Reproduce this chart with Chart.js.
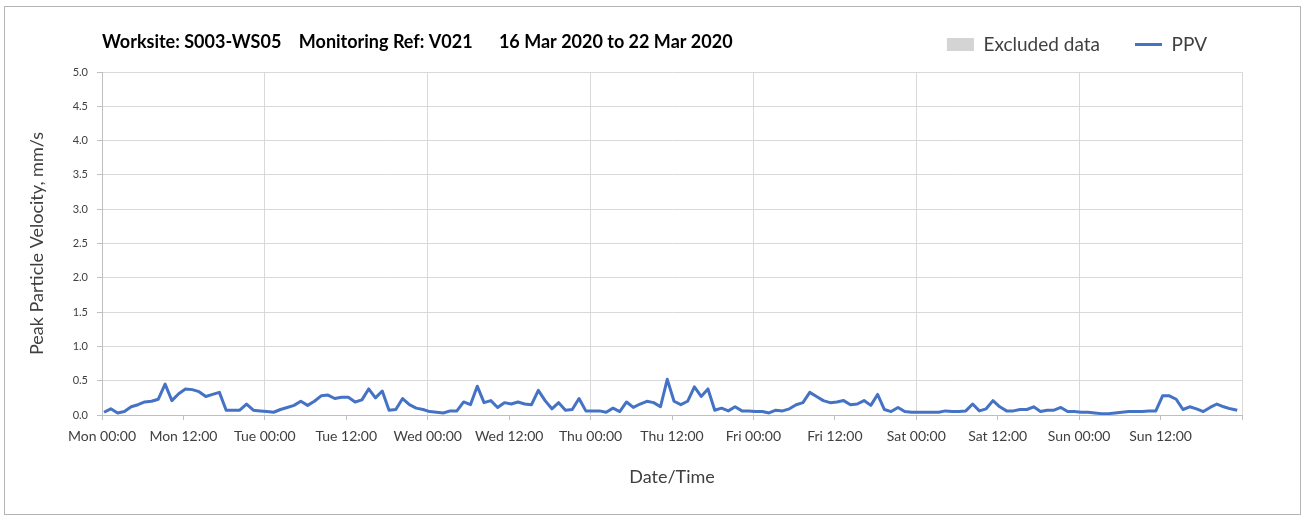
<!DOCTYPE html>
<html>
<head>
<meta charset="utf-8">
<script src="https://cdn.jsdelivr.net/npm/chart.js@4.4.1/dist/chart.umd.min.js"></script>
<style>
html, body { margin: 0; padding: 0; background: #ffffff; }
#wrap { position: relative; width: 1306px; height: 516px; overflow: hidden; }
#frame { position: absolute; left: 4px; top: 6px; width: 1297px; height: 509px; box-sizing: border-box; border: 1px solid #b4b4b4; pointer-events: none; }
canvas { position: absolute; left: 0; top: 0; }
</style>
</head>
<body>
<div id="wrap">
  <div id="frame"></div>
  <canvas id="c" width="1306" height="516"></canvas>
</div>
<script>
// ---- Data (PPV, mm/s, hourly readings) ----
const chartTitle = 'Worksite: S003-WS05    Monitoring Ref: V021      16 Mar 2020 to 22 Mar 2020';
const seriesName = 'PPV';
const excludedName = 'Excluded data';
const firstReadingHour = 0.3;   // hours after Mon 00:00 of first reading
const readingStepHours = 1;

const mon = [0.04,0.09,0.03,0.05,0.12,0.15,0.19,0.20,0.23,0.45,0.21,0.31,0.38,0.37,0.34,0.27,0.30,0.33,0.07,0.07,0.07,0.16,0.07,0.06];
const tue = [0.05,0.04,0.08,0.11,0.14,0.20,0.14,0.20,0.28,0.29,0.24,0.26,0.26,0.19,0.22,0.38,0.25,0.35,0.07,0.08,0.24,0.15,0.10,0.08];
const wed = [0.05,0.04,0.03,0.06,0.06,0.19,0.15,0.42,0.18,0.21,0.11,0.18,0.16,0.19,0.16,0.15,0.36,0.21,0.09,0.18,0.07,0.08,0.24,0.06];
const thu = [0.06,0.06,0.04,0.10,0.05,0.19,0.11,0.16,0.20,0.18,0.12,0.52,0.20,0.15,0.20,0.41,0.27,0.38,0.07,0.10,0.06,0.12,0.06,0.06];
const fri = [0.05,0.05,0.03,0.07,0.06,0.09,0.15,0.18,0.33,0.27,0.21,0.18,0.19,0.21,0.15,0.16,0.21,0.14,0.30,0.08,0.05,0.11,0.05,0.04];
const sat = [0.04,0.04,0.04,0.04,0.06,0.05,0.05,0.06,0.16,0.06,0.09,0.21,0.12,0.06,0.06,0.08,0.08,0.12,0.05,0.07,0.07,0.11,0.05,0.05];
const sun = [0.04,0.04,0.03,0.02,0.02,0.03,0.04,0.05,0.05,0.05,0.06,0.06,0.28,0.28,0.23,0.08,0.12,0.09,0.05,0.11,0.16,0.12,0.09,0.07];

const xTickLabels = ['Mon 00:00','Mon 12:00','Tue 00:00','Tue 12:00','Wed 00:00','Wed 12:00','Thu 00:00','Thu 12:00','Fri 00:00','Fri 12:00','Sat 00:00','Sat 12:00','Sun 00:00','Sun 12:00',''];
const yTickLabels = ['0.0','0.5','1.0','1.5','2.0','2.5','3.0','3.5','4.0','4.5','5.0'];

const ppvValues = [].concat(mon, tue, wed, thu, fri, sat, sun);
const ppvPoints = ppvValues.map((v, i) => ({ x: firstReadingHour + i * readingStepHours, y: v }));

const FONT = 'Lato, "Open Sans", sans-serif';
const TXT = '#404040';
const LINE_BLUE = '#4472C4';
const EXCL_GREY = '#d4d4d4';

function make() {
  new Chart(document.getElementById('c'), {
    type: 'line',
    data: {
      datasets: [
        { label: seriesName, data: ppvPoints, borderColor: LINE_BLUE, backgroundColor: LINE_BLUE,
          borderWidth: 3, pointRadius: 0, tension: 0, fill: false, borderJoinStyle: 'round' },
        { label: excludedName, data: [], borderColor: EXCL_GREY, backgroundColor: EXCL_GREY, pointRadius: 0 }
      ]
    },
    options: {
      responsive: false,
      animation: false,
      devicePixelRatio: 1,
      layout: { padding: { top: 0, right: 64, bottom: 0, left: 0 } },
      plugins: {
        tooltip: { enabled: false },
        legend: {
          position: 'top',
          align: 'end',
          labels: {
            usePointStyle: true,
            pointStyleWidth: 27,
            boxHeight: 13,
            padding: 35,
            color: TXT,
            font: { family: FONT, size: 19 },
            generateLabels: () => [
              { text: excludedName, fillStyle: EXCL_GREY, strokeStyle: EXCL_GREY, lineWidth: 0, pointStyle: 'rect', hidden: false, datasetIndex: 1, fontColor: TXT },
              { text: seriesName, fillStyle: LINE_BLUE, strokeStyle: LINE_BLUE, lineWidth: 3, pointStyle: 'line', hidden: false, datasetIndex: 0, fontColor: TXT }
            ]
          }
        },
        title: {
          display: true,
          text: chartTitle,
          position: 'top',
          align: 'start',
          fullSize: false,
          weight: 500,
          color: '#000000',
          font: { family: FONT, size: 18, weight: 'bold', lineHeight: 1.2 },
          padding: { top: -32.8, bottom: 19.2 }
        }
      },
      scales: {
        x: {
          type: 'linear',
          min: 0,
          max: 168,
          afterFit: (s) => { s.height = 101; },
          ticks: {
            stepSize: 12,
            autoSkip: false,
            maxRotation: 0,
            minRotation: 0,
            color: TXT,
            padding: 8,
            font: { family: FONT, size: 14 },
            callback: (v) => { const l = xTickLabels[Math.round(v / 12)]; return l === undefined ? '' : l; }
          },
          grid: {
            color: (c) => (c.tick && Math.round(c.tick.value) % 24 === 0) ? '#d9d9d9' : 'rgba(0,0,0,0)',
            tickColor: '#bfbfbf',
            tickLength: 5,
            lineWidth: 1
          },
          border: { color: '#bfbfbf' },
          title: { display: true, text: 'Date/Time', color: TXT, font: { family: FONT, size: 18 }, padding: { top: 0, bottom: 28.2 } }
        },
        y: {
          min: 0,
          max: 5,
          afterFit: (s) => { s.width = 102; },
          ticks: {
            stepSize: 0.5,
            color: TXT,
            padding: 9,
            font: { family: FONT, size: 11 },
            callback: (v) => { const l = yTickLabels[Math.round(v * 2)]; return l === undefined ? '' : l; }
          },
          grid: { color: '#d9d9d9', tickColor: '#bfbfbf', tickLength: 5, lineWidth: 1 },
          border: { color: '#bfbfbf' },
          title: { display: true, text: 'Peak Particle Velocity, mm/s', color: TXT, font: { family: FONT, size: 18 }, padding: { top: 26.2, bottom: 0 } }
        }
      }
    }
  });
}

if (document.fonts && document.fonts.load) {
  Promise.all([
    document.fonts.load('16px Lato'),
    document.fonts.load('bold 16px Lato')
  ]).then(make, make);
} else {
  make();
}
</script>
</body>
</html>
